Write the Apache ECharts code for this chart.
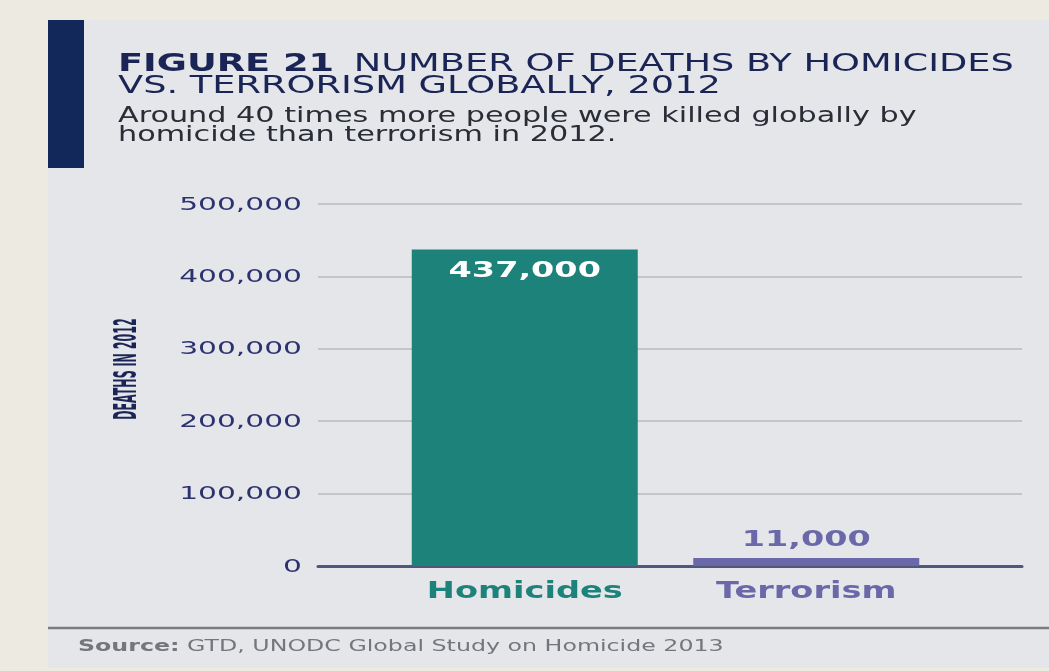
<!DOCTYPE html>
<html><head><meta charset="utf-8">
<script src="https://cdn.jsdelivr.net/npm/echarts@6/dist/echarts.min.js"></script>
<style>html,body{margin:0;padding:0;background:#edebe1}#c{width:1049px;height:671px}</style>
</head><body><div id="c"></div>
<script>
const categories = ['Homicides', 'Terrorism'];
const deaths = [437000, 11000];
const yTicks = [0, 100000, 200000, 300000, 400000, 500000];
const titleBold = 'FIGURE 21';
const titleRest = 'NUMBER OF DEATHS BY HOMICIDES';
const titleLine2 = 'VS. TERRORISM GLOBALLY, 2012';
const subtitle = 'Around 40 times more people were killed globally by\nhomicide than terrorism in 2012.';
const yName = 'DEATHS IN 2012';
const sourceBold = 'Source:';
const sourceRest = ' GTD, UNODC Global Study on Homicide 2013';

const barColors = ['#1c827a', '#6b68aa'];
const fmt = v => v.toLocaleString('en-US');
const FONT = 'DejaVu Sans';

const chart = echarts.init(document.getElementById('c'), null, {renderer: 'canvas'});
const yMin = yTicks[0], yMax = yTicks[yTicks.length - 1], yInt = yTicks[1] - yTicks[0];

chart.setOption({
  backgroundColor: '#edebe1',
  animation: false,
  graphic: [
    {type: 'rect', z: -10, shape: {x: 48, y: 20, width: 1001, height: 648}, style: {fill: '#e5e6ea'}},
    {type: 'rect', z: -9, shape: {x: 48, y: 20, width: 36, height: 148}, style: {fill: '#13285a'}},
    {type: 'line', z: -9, shape: {x1: 48, y1: 628, x2: 1049, y2: 628}, style: {stroke: '#7b7c80', lineWidth: 2.5}},
    {type: 'text', x: 118, y: 53, scaleX: 1.47, style: {
      text: '{b|' + titleBold + '}    {n|' + titleRest + '}\n{n|' + titleLine2 + '}',
      rich: {
        b: {fontFamily: FONT, fontWeight: 'bold', fontSize: 25, fill: '#1a2556', lineHeight: 22},
        n: {fontFamily: FONT, fontSize: 25, fill: '#1a2556', lineHeight: 22}
      }
    }},
    {type: 'text', x: 118, y: 107, scaleX: 1.44, style: {
      text: subtitle, fontFamily: FONT, fontSize: 21, fill: '#2a2c36', lineHeight: 19
    }},
    {type: 'text', x: 128, y: 369, rotation: Math.PI / 2, scaleX: 0.95, scaleY: 2.5, style: {
      text: yName, fontFamily: '"DejaVu Sans Condensed", "Liberation Sans", sans-serif', fontWeight: 'bold', fontSize: 13,
      fill: '#1a2556', align: 'center', verticalAlign: 'middle'
    }},
    {type: 'text', x: 78, y: 647, scaleX: 1.58, style: {
      text: '{b|' + sourceBold + '}{n|' + sourceRest + '}', verticalAlign: 'middle',
      rich: {
        b: {fontFamily: FONT, fontWeight: 'bold', fontSize: 15, fill: '#75757b'},
        n: {fontFamily: FONT, fontSize: 15, fill: '#75757b'}
      }
    }}
  ],
  grid: [
    {left: 318, right: 27, top: 204, bottom: 105},
    {left: 384, right: 102, top: 204, bottom: 105}
  ],
  xAxis: [
    {gridIndex: 0, type: 'value', min: 0, max: 1, axisLine: {show: true, onZero: false, lineStyle: {color: '#4f5878', width: 3}},
     axisTick: {show: false}, axisLabel: {show: false}, splitLine: {show: false}},
    {gridIndex: 1, type: 'category', data: categories, axisLine: {show: false}, axisTick: {show: false},
     axisLabel: {show: false}}
  ],
  yAxis: [
    {gridIndex: 0, type: 'value', min: yMin, max: yMax, interval: yInt,
     axisLine: {show: false}, axisTick: {show: false}, axisLabel: {show: false},
     splitLine: {lineStyle: {color: '#b9babe', width: 1.5}}},
    {gridIndex: 1, type: 'value', min: yMin, max: yMax, interval: yInt, show: false, splitLine: {show: false}}
  ],
  series: [
    {
      type: 'bar', xAxisIndex: 1, yAxisIndex: 1, barWidth: 226,
      data: deaths.map((v, i) => ({value: v, itemStyle: {color: barColors[i]}}))
    },
    {
      // y tick labels (stretched like the original artwork)
      type: 'custom', xAxisIndex: 0, yAxisIndex: 0, clip: false, silent: true, z: 5,
      data: yTicks.map(v => [0, v]),
      renderItem: (params, api) => {
        const p = api.coord([api.value(0), api.value(1)]);
        return {type: 'text', x: p[0] - 16, y: p[1] + 1, scaleX: 1.65, style: {
          text: fmt(api.value(1)), fontFamily: FONT, fontSize: 18, fill: '#2c3270',
          align: 'right', verticalAlign: 'middle'}};
      }
    },
    {
      // value labels and category labels
      type: 'custom', xAxisIndex: 1, yAxisIndex: 1, clip: false, silent: true, z: 5,
      data: deaths.map((v, i) => [i, v]),
      renderItem: (params, api) => {
        const i = api.value(0), v = api.value(1);
        const top = api.coord([i, v]);
        const base = api.coord([i, 0]);
        const inside = i === 0;
        return {type: 'group', children: [
          {type: 'text', x: top[0], y: inside ? top[1] + 11 : top[1] - 7, scaleX: 1.52, style: {
            text: fmt(v), fontFamily: FONT, fontWeight: 'bold', fontSize: 22,
            fill: inside ? '#ffffff' : barColors[i], align: 'center',
            verticalAlign: inside ? 'top' : 'bottom'}},
          {type: 'text', x: base[0], y: base[1] + 15, scaleX: 1.46, style: {
            text: categories[i], fontFamily: FONT, fontWeight: 'bold', fontSize: 23,
            fill: barColors[i], align: 'center', verticalAlign: 'top'}}
        ]};
      }
    }
  ]
});
</script></body></html>
